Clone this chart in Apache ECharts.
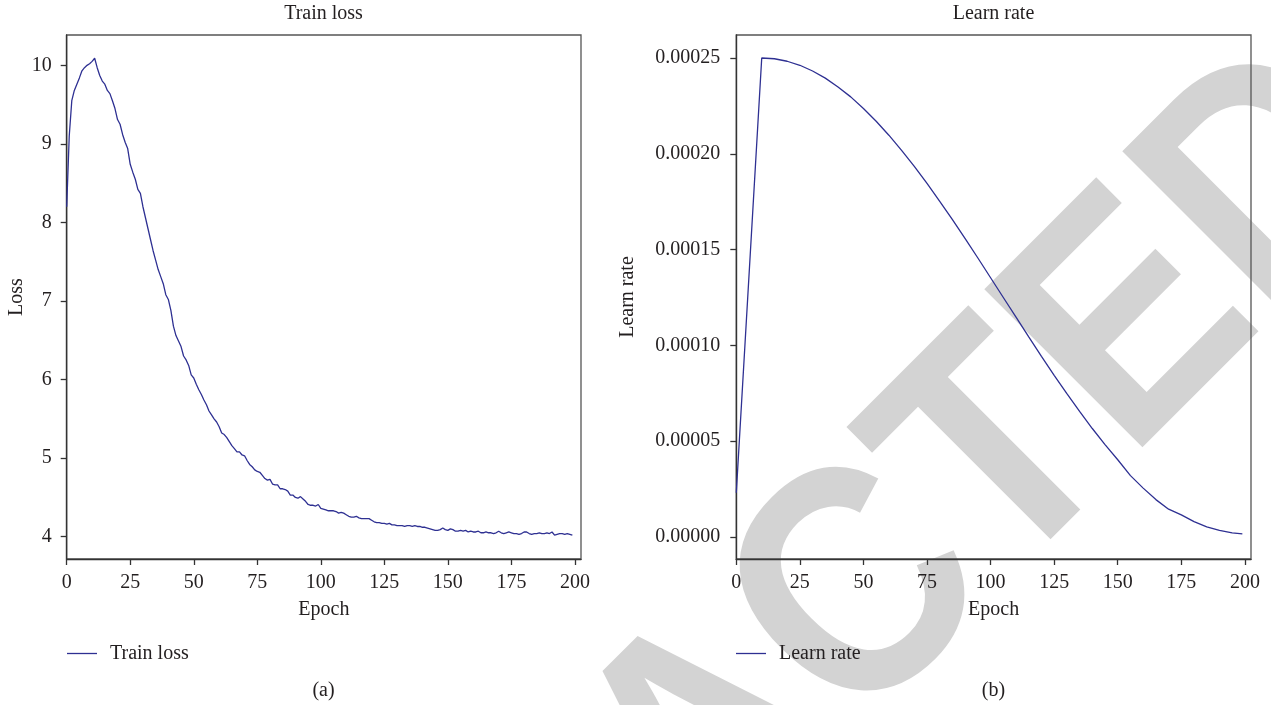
<!DOCTYPE html>
<html>
<head>
<meta charset="utf-8">
<script src="https://cdn.jsdelivr.net/npm/echarts@6/dist/echarts.min.js"></script>
<style>
html,body{margin:0;padding:0;background:#fff;}
#c{width:1271px;height:705px;}
</style>
</head>
<body>
<div id="c"></div>
<script>
// ---- data ----
const lossValues = [
8.20,9.10,9.55,9.68,9.76,9.84,9.93,9.97,10.00,10.02,
10.05,10.09,9.97,9.87,9.80,9.76,9.68,9.64,9.55,9.45,
9.31,9.25,9.12,9.02,8.94,8.74,8.64,8.55,8.42,8.37,
8.20,8.06,7.92,7.78,7.64,7.52,7.40,7.31,7.22,7.08,
7.02,6.88,6.68,6.56,6.49,6.42,6.30,6.25,6.18,6.06,
6.02,5.94,5.87,5.81,5.74,5.68,5.60,5.55,5.50,5.46,
5.40,5.32,5.30,5.26,5.21,5.16,5.12,5.08,5.08,5.04,
5.03,4.97,4.92,4.89,4.85,4.83,4.82,4.78,4.74,4.72,
4.73,4.67,4.66,4.66,4.61,4.61,4.60,4.58,4.53,4.53,
4.50,4.49,4.51,4.48,4.45,4.41,4.40,4.40,4.39,4.41,
4.36,4.35,4.34,4.33,4.33,4.33,4.32,4.30,4.31,4.30,
4.28,4.26,4.25,4.25,4.26,4.24,4.23,4.23,4.23,4.23,
4.21,4.19,4.18,4.18,4.17,4.17,4.16,4.17,4.15,4.15,
4.14,4.14,4.14,4.13,4.14,4.14,4.13,4.14,4.13,4.13,
4.12,4.12,4.11,4.10,4.09,4.08,4.08,4.09,4.11,4.09,
4.08,4.10,4.09,4.07,4.07,4.08,4.07,4.08,4.06,4.07,
4.06,4.06,4.07,4.05,4.05,4.06,4.05,4.05,4.04,4.05,
4.07,4.05,4.04,4.05,4.06,4.05,4.04,4.04,4.03,4.04,
4.06,4.06,4.04,4.03,4.04,4.04,4.05,4.04,4.04,4.05,
4.04,4.06,4.02,4.03,4.04,4.04,4.03,4.04,4.03,4.02
];
const lrEpochs = [0,10,15,20,25,30,35,40,45,50,55,60,65,70,75,80,85,90,95,100,
105,110,115,120,125,130,135,140,145,150,155,160,165,170,175,180,185,190,195,199];
const lrValues = [0.0000231,0.00025,0.0002496,0.0002483,0.0002462,0.0002432,0.0002395,0.0002349,0.0002297,0.0002236,
0.0002170,0.0002097,0.0002018,0.0001934,0.0001845,0.0001752,0.0001656,0.0001557,0.0001456,0.0001353,
0.000125,0.0001147,0.0001044,0.0000943,0.0000844,0.0000748,0.0000655,0.0000566,0.0000482,0.0000403,
0.0000320,0.0000255,0.0000195,0.0000145,0.0000115,0.0000080,0.0000053,0.0000034,0.0000021,0.0000016];
const xTicks = [0,25,50,75,100,125,150,175,200];
const lossTicks = [4,5,6,7,8,9,10];
const lrTicks = [0,0.00005,0.0001,0.00015,0.0002,0.00025];
const titles = ['Train loss','Learn rate'];
const captions = ['(a)','(b)'];
const seriesNames = ['Train loss','Learn rate'];
const yNames = ['Loss','Learn rate'];
const xName = 'Epoch';

// ---- build ----
const lossData = lossValues.map((v,i)=>[i,v]);
const lrData = lrEpochs.map((e,i)=>[e,lrValues[i]]);

const FONT = '"Liberation Serif", "DejaVu Serif", serif';
const TXT = '#231f20';
const LINE = '#2e3092';
const AX = '#333333';

const G = [
  {left:66.7, top:35, width:514.3, height:524},
  {left:736.3, top:35, width:514.7, height:524}
];

function xAxisOf(idx){
  return {
    type:'value', gridIndex:idx, min:0, max:202.4, interval:25,
    name:xName, nameLocation:'middle', nameGap:41,
    nameTextStyle:{fontFamily:FONT, fontSize:20, color:TXT},
    axisLine:{show:true, onZero:false, lineStyle:{color:AX, width:1.4}},
    axisTick:{show:true, length:6, lineStyle:{color:AX, width:1.3}, customValues:xTicks},
    axisLabel:{fontFamily:FONT, fontSize:20, color:TXT, margin:14, customValues:xTicks,
      formatter:v=>String(v)},
    splitLine:{show:false}
  };
}

function legendItem(i, left){
  return [
    {type:'line', z:10, silent:true, shape:{x1:left, y1:653.5, x2:left+30, y2:653.5},
     style:{stroke:LINE, lineWidth:1.3}},
    {type:'text', x:left+43, y:654, z:10, silent:true,
     style:{text:seriesNames[i], fill:TXT, fontFamily:FONT, fontSize:20, align:'left', verticalAlign:'middle'}}
  ];
}

const option = {
  backgroundColor:'#fff',
  animation:false,
  grid: G.map(g=>Object.assign({show:true, borderColor:'#555', borderWidth:1.3, backgroundColor:'transparent'}, g)),
  xAxis:[xAxisOf(0), xAxisOf(1)],
  yAxis:[
    {type:'value', gridIndex:0, min:3.716, max:10.386, interval:1,
     name:yNames[0], nameLocation:'middle', nameGap:40, nameRotate:90,
     nameTextStyle:{fontFamily:FONT, fontSize:20, color:TXT},
     axisLine:{show:true, onZero:false, lineStyle:{color:AX, width:1.4}},
     axisTick:{show:true, length:6, lineStyle:{color:AX, width:1.3}, customValues:lossTicks},
     axisLabel:{fontFamily:FONT, fontSize:20, color:TXT, margin:15, customValues:lossTicks,
       formatter:v=>String(v)},
     splitLine:{show:false}},
    {type:'value', gridIndex:1, min:-0.0000115, max:0.000262,
     name:yNames[1], nameLocation:'middle', nameGap:99, nameRotate:90,
     nameTextStyle:{fontFamily:FONT, fontSize:20, color:TXT},
     axisLine:{show:true, onZero:false, lineStyle:{color:AX, width:1.4}},
     axisTick:{show:true, length:6, lineStyle:{color:AX, width:1.3}, customValues:lrTicks},
     axisLabel:{fontFamily:FONT, fontSize:20, color:TXT, margin:16, customValues:lrTicks,
       formatter:v=>Number(v).toFixed(5)},
     splitLine:{show:false}}
  ],
  graphic:{elements:[
    {type:'text', x:778, y:685, rotation:Math.PI/4, scaleX:0.9, z:-10, silent:true,
     style:{text:'REDACTED', fill:'#d3d3d3', fontFamily:'"Liberation Sans", Arial, sans-serif',
       fontWeight:'bold', fontSize:325, align:'center', verticalAlign:'middle'}},
    {type:'text', x:323.5, y:14, z:10, style:{text:titles[0], fill:TXT, fontFamily:FONT, fontSize:20, align:'center', verticalAlign:'middle'}},
    {type:'text', x:993.5, y:14, z:10, style:{text:titles[1], fill:TXT, fontFamily:FONT, fontSize:20, align:'center', verticalAlign:'middle'}},
    {type:'text', x:323.5, y:691, z:10, style:{text:captions[0], fill:TXT, fontFamily:FONT, fontSize:20, align:'center', verticalAlign:'middle'}},
    {type:'text', x:993.5, y:691, z:10, style:{text:captions[1], fill:TXT, fontFamily:FONT, fontSize:20, align:'center', verticalAlign:'middle'}}
  ].concat(legendItem(0, 67), legendItem(1, 736))},
  series:[
    {name:seriesNames[0], type:'line', xAxisIndex:0, yAxisIndex:0, data:lossData,
     symbol:'none', showSymbol:false, lineStyle:{color:LINE, width:1.3}, itemStyle:{color:LINE}, z:5},
    {name:seriesNames[1], type:'line', xAxisIndex:1, yAxisIndex:1, data:lrData,
     symbol:'none', showSymbol:false, lineStyle:{color:LINE, width:1.3}, itemStyle:{color:LINE}, z:5}
  ]
};
const chart = echarts.init(document.getElementById('c'), null, {renderer:'canvas'});
chart.setOption(option);
</script>
</body>
</html>
